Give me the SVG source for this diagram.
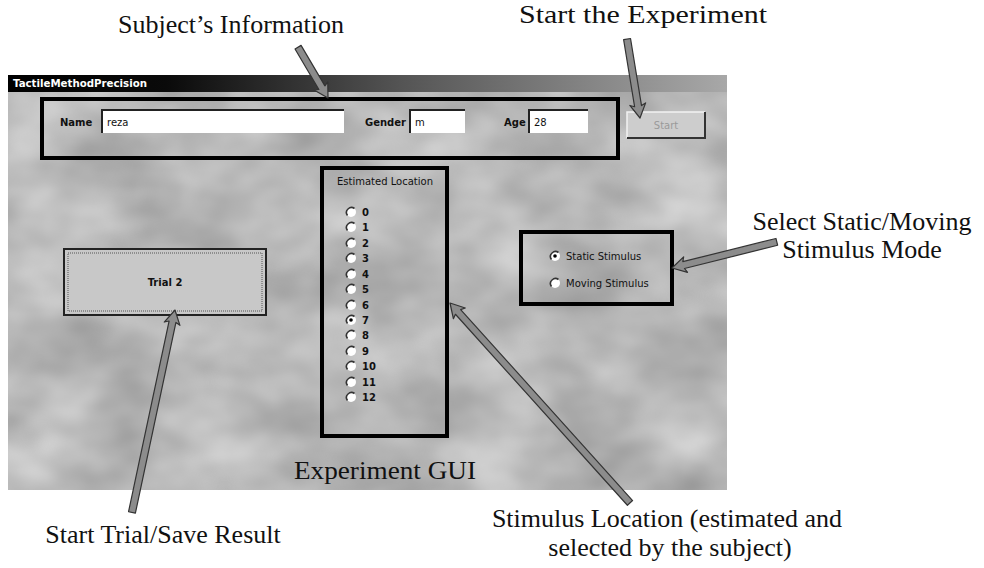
<svg xmlns="http://www.w3.org/2000/svg" xmlns:xlink="http://www.w3.org/1999/xlink" width="984" height="568" viewBox="0 0 984 568">
<style>
.lbl{font-family:"Liberation Serif","Times New Roman",serif;font-size:26px;fill:#111}
.ui{font-family:"DejaVu Sans","Liberation Sans",sans-serif;font-size:10px;fill:#111}
.uib{font-family:"DejaVu Sans","Liberation Sans",sans-serif;font-size:10px;fill:#111;font-weight:bold}
.frame{fill:none;stroke:#000;stroke-width:4}
.field{fill:#fff}
.sunk{fill:none;stroke:#222;stroke-width:2}
.arrow{fill:#8c8c8c;stroke:#333;stroke-width:1.2;stroke-linejoin:round}
</style>
<defs>
<linearGradient id="tbar" x1="0" y1="0" x2="1" y2="0">
<stop offset="0" stop-color="#000"/>
<stop offset="0.22" stop-color="#0a0a0a"/>
<stop offset="0.55" stop-color="#555"/>
<stop offset="1" stop-color="#a8a8a8"/>
</linearGradient>
<filter id="clouds" x="0" y="0" width="1" height="1" color-interpolation-filters="sRGB">
<feTurbulence type="fractalNoise" baseFrequency="0.011 0.016" numOctaves="3" seed="7"/>
<feColorMatrix type="matrix" values="0.32 0 0 0 0.56  0.32 0 0 0 0.56  0.32 0 0 0 0.56  0 0 0 0 1"/>
</filter>
<g id="radio">
<circle r="5" fill="#fff"/>
<path d="M3.5,-3.5 A5,5 0 0 0 -3.5,3.5" fill="none" stroke="#333" stroke-width="1.6"/>
</g>
</defs>
<rect width="984" height="568" fill="#fff"/>

<g id="window">
<rect x="8" y="75" width="719" height="415" filter="url(#clouds)"/>
<rect x="8" y="75" width="719" height="17" fill="url(#tbar)"/>
<text x="13" y="87" font-family="DejaVu Sans, sans-serif" font-size="10" font-weight="bold" fill="#fff" textLength="134" lengthAdjust="spacingAndGlyphs">TactileMethodPrecision</text>
</g>

<g id="subject-info">
<rect class="frame" x="42" y="99" width="576" height="59"/>
<text class="uib" x="60" y="126">Name</text>
<rect class="field" x="102" y="110" width="242" height="23"/>
<path class="sunk" d="M102,133 V110 H344"/>
<text class="ui" x="107" y="126">reza</text>
<text class="uib" x="365" y="126">Gender</text>
<rect class="field" x="410" y="110" width="55" height="23"/>
<path class="sunk" d="M410,133 V110 H465"/>
<text class="ui" x="415" y="126">m</text>
<text class="uib" x="504" y="126">Age</text>
<rect class="field" x="529" y="110" width="59" height="23"/>
<path class="sunk" d="M529,133 V110 H588"/>
<text class="ui" x="534" y="126">28</text>
</g>

<g id="start-button">
<rect x="627" y="112" width="78" height="26" fill="#cdcdcd"/>
<path d="M627,138 V112 H705" fill="none" stroke="#f2f2f2" stroke-width="1.5"/>
<path d="M627,138 H705 V112" fill="none" stroke="#333" stroke-width="2"/>
<text x="666" y="129" font-family="DejaVu Sans, sans-serif" font-size="10" fill="#9a9a9a" text-anchor="middle">Start</text>
</g>

<g id="location-panel">
<rect class="frame" x="322" y="168" width="125" height="268"/>
<text class="ui" x="385" y="185" text-anchor="middle" font-size="9.5">Estimated Location</text>
<use xlink:href="#radio" x="351" y="212"/><text class="uib" x="362" y="216">0</text>
<use xlink:href="#radio" x="351" y="227"/><text class="uib" x="362" y="231">1</text>
<use xlink:href="#radio" x="351" y="243"/><text class="uib" x="362" y="247">2</text>
<use xlink:href="#radio" x="351" y="258"/><text class="uib" x="362" y="262">3</text>
<use xlink:href="#radio" x="351" y="274"/><text class="uib" x="362" y="278">4</text>
<use xlink:href="#radio" x="351" y="289"/><text class="uib" x="362" y="293">5</text>
<use xlink:href="#radio" x="351" y="305"/><text class="uib" x="362" y="309">6</text>
<use xlink:href="#radio" x="351" y="320"/><circle cx="351" cy="320" r="1.8" fill="#000"/><text class="uib" x="362" y="324">7</text>
<use xlink:href="#radio" x="351" y="335"/><text class="uib" x="362" y="339">8</text>
<use xlink:href="#radio" x="351" y="351"/><text class="uib" x="362" y="355">9</text>
<use xlink:href="#radio" x="351" y="366"/><text class="uib" x="362" y="370">10</text>
<use xlink:href="#radio" x="351" y="382"/><text class="uib" x="362" y="386">11</text>
<use xlink:href="#radio" x="351" y="397"/><text class="uib" x="362" y="401">12</text>
</g>

<g id="trial-button">
<rect x="64" y="249" width="202" height="66" fill="#c8c8c8" stroke="#222" stroke-width="2"/>
<rect x="68" y="253" width="194" height="58" fill="none" stroke="#555" stroke-width="1" stroke-dasharray="1 1"/>
<text class="uib" x="165" y="286" text-anchor="middle">Trial 2</text>
</g>

<g id="mode-panel">
<rect class="frame" x="521" y="232" width="151" height="72"/>
<use xlink:href="#radio" x="555" y="256"/><circle cx="555" cy="256" r="1.8" fill="#000"/>
<text class="ui" x="566" y="260" font-size="9">Static Stimulus</text>
<use xlink:href="#radio" x="555" y="283"/>
<text class="ui" x="566" y="287" font-size="9">Moving Stimulus</text>
</g>

<g id="connectors">
<path class="arrow" transform="translate(328,98) rotate(59.5)" d="M0,0 L-14,-8 L-12,-3.5 L-59,-3.5 L-59,3.5 L-12,3.5 L-14,8 Z"/>
<path class="arrow" transform="translate(640,118) rotate(80.7)" d="M0,0 L-14,-8 L-12,-3.5 L-80,-3.5 L-80,3.5 L-12,3.5 L-14,8 Z"/>
<path class="arrow" transform="translate(175,310) rotate(-78)" d="M0,0 L-14,-8 L-12,-3.5 L-207,-3.5 L-207,3.5 L-12,3.5 L-14,8 Z"/>
<path class="arrow" transform="translate(450,303) rotate(-132)" d="M0,0 L-14,-8 L-12,-3.5 L-269,-3.5 L-269,3.5 L-12,3.5 L-14,8 Z"/>
<path class="arrow" transform="translate(672,268) rotate(166)" d="M0,0 L-14,-8 L-12,-3.5 L-108,-3.5 L-108,3.5 L-12,3.5 L-14,8 Z"/>
</g>

<g id="labels">
<text class="lbl" x="231" y="33" text-anchor="middle">Subject’s Information</text>
<text class="lbl" x="643" y="23" text-anchor="middle" font-size="27" textLength="248" lengthAdjust="spacingAndGlyphs">Start the Experiment</text>
<text class="lbl" x="862" y="230" text-anchor="middle">Select Static/Moving</text>
<text class="lbl" x="862" y="258" text-anchor="middle">Stimulus Mode</text>
<text class="lbl" x="385" y="479" text-anchor="middle" textLength="182" lengthAdjust="spacingAndGlyphs">Experiment GUI</text>
<text class="lbl" x="163" y="543" text-anchor="middle">Start Trial/Save Result</text>
<text class="lbl" x="667" y="527" text-anchor="middle">Stimulus Location (estimated and</text>
<text class="lbl" x="670" y="556" text-anchor="middle">selected by the subject)</text>
</g>
</svg>
